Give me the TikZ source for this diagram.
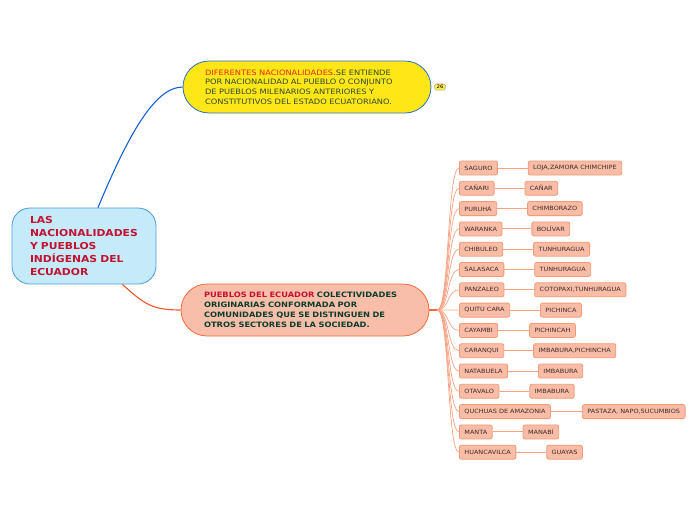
\documentclass[tikz,border=0pt]{standalone}
\usepackage{fontspec}
\setmainfont{DejaVu Sans}[FakeStretch=1.12]
\usepackage{tikz}
\usetikzlibrary{positioning}

\definecolor{rootfill}{HTML}{C5EBFB}
\definecolor{rootline}{HTML}{4A9AD8}
\definecolor{crimson}{HTML}{C3112F}
\definecolor{yelfill}{HTML}{FFE617}
\definecolor{yelline}{HTML}{2A6FC8}
\definecolor{olivetext}{HTML}{2D4A32}
\definecolor{redtext}{HTML}{E8281E}
\definecolor{orafill}{HTML}{F8BEA9}
\definecolor{oraline}{HTML}{F26A3A}
\definecolor{greentext}{HTML}{0B3D2C}
\definecolor{leaffill}{HTML}{F9BDA7}
\definecolor{leafline}{HTML}{F39A76}
\definecolor{leaftext}{HTML}{3B2A25}
\definecolor{fanline}{HTML}{F7A283}
\definecolor{blueline}{HTML}{1560D0}
\definecolor{redline}{HTML}{F0562A}

\begin{document}
\begin{tikzpicture}[x=1pt, y=-1pt,
  leaf/.style={draw=leafline, fill=leaffill, text=leaftext, rounded corners=2pt,
    line width=0.8pt, font=\fontsize{5.8}{7}\selectfont, minimum height=14pt,
    inner xsep=5pt, inner ysep=0pt},
  fan/.style={fanline, line width=0.7pt},
  twig/.style={fanline, line width=0.9pt}]
  \useasboundingbox (0,0) rectangle (696,520);

  % main topic and its two branches
  \node[draw=rootline, fill=rootfill, text=crimson, rounded corners=18pt, line width=0.8pt,
    font=\bfseries\fontsize{9.6}{13}\selectfont, align=left, text width=108pt,
    inner xsep=18pt, minimum height=76pt] (root) at (84,246)
    {LAS\\NACIONALIDADES\\Y PUEBLOS\\INDÍGENAS DEL\\ECUADOR};
  \node[draw=yelline, fill=yelfill, text=olivetext, rounded corners=26pt, line width=0.8pt,
    font=\fontsize{7.4}{9.7}\selectfont, align=left, text width=204pt,
    inner xsep=22pt, minimum height=52pt] (nacion) at (307,87)
    {\textcolor{redtext}{DIFERENTES NACIONALIDADES.}SE ENTIENDE\\POR NACIONALIDAD AL PUEBLO O CONJUNTO\\DE PUEBLOS MILENARIOS ANTERIORES Y\\CONSTITUTIVOS DEL ESTADO ECUATORIANO.};
  \node[draw=oraline, fill=orafill, text=greentext, rounded corners=26pt, line width=0.8pt,
    font=\bfseries\fontsize{7.4}{10}\selectfont, align=left, text width=202pt,
    inner xsep=23pt, minimum height=52pt] (pueblos) at (305,310)
    {\textcolor{crimson}{PUEBLOS DEL ECUADOR} COLECTIVIDADES\\ORIGINARIAS CONFORMADA POR\\COMUNIDADES QUE SE DISTINGUEN DE\\OTROS SECTORES DE LA SOCIEDAD.};
  \node[draw=black!35, fill=yelfill!80!white, rounded corners=1.5pt, line width=0.5pt,
    font=\fontsize{4.8}{5}\selectfont, inner xsep=2pt, inner ysep=1.3pt] (badge) at (440,87) {26};

  \draw[blueline, line width=1.1pt] (root.70) .. controls +(30,-72) and +(-28,0) .. (nacion.west);
  \draw[redline, line width=1.1pt] (root.-45) .. controls +(22,20) and +(-28,0) .. (pueblos.west);

  % pueblos
  \node[leaf, anchor=west] (saguro) at (459,168) {SAGURO};
  \node[leaf, anchor=west] (canari) at (459,188.3) {CAÑARI};
  \node[leaf, anchor=west] (puruha) at (459,208.6) {PURUHÁ};
  \node[leaf, anchor=west] (waranka) at (459,228.9) {WARANKA};
  \node[leaf, anchor=west] (chibuleo) at (459,249.2) {CHIBULEO};
  \node[leaf, anchor=west] (salasaca) at (459,269.5) {SALASACA};
  \node[leaf, anchor=west] (panzaleo) at (459,289.8) {PANZALEO};
  \node[leaf, anchor=west] (quitu) at (459,310.1) {QUITU CARA};
  \node[leaf, anchor=west] (cayambi) at (459,330.4) {CAYAMBI};
  \node[leaf, anchor=west] (caranqui) at (459,350.7) {CARANQUI};
  \node[leaf, anchor=west] (natabuela) at (459,371) {NATABUELA};
  \node[leaf, anchor=west] (otavalo) at (459,391.3) {OTAVALO};
  \node[leaf, anchor=west] (quchuas) at (459,411.6) {QUCHUAS DE AMAZONIA};
  \node[leaf, anchor=west] (manta) at (459,431.9) {MANTA};
  \node[leaf, anchor=west] (huanca) at (459,452.2) {HUANCAVILCA};

  % provincias
  \node[leaf, right=30pt of saguro] (p-saguro) {LOJA,ZAMORA CHIMCHIPE};
  \node[leaf, right=30pt of canari] (p-canari) {CAÑAR};
  \node[leaf, right=30pt of puruha] (p-puruha) {CHIMBORAZO};
  \node[leaf, right=29pt of waranka] (p-waranka) {BOLÍVAR};
  \node[leaf, right=30pt of chibuleo] (p-chibuleo) {TUNHURAGUA};
  \node[leaf, right=30pt of salasaca] (p-salasaca) {TUNHURAGUA};
  \node[leaf, right=30pt of panzaleo] (p-panzaleo) {COTOPAXI,TUNHURAGUA};
  \node[leaf, right=30pt of quitu] (p-quitu) {PICHINCA};
  \node[leaf, right=31pt of cayambi] (p-cayambi) {PICHINCAH};
  \node[leaf, right=29pt of caranqui] (p-caranqui) {IMBABURA,PICHINCHA};
  \node[leaf, right=30pt of natabuela] (p-natabuela) {IMBABURA};
  \node[leaf, right=30pt of otavalo] (p-otavalo) {IMBABURA};
  \node[leaf, right=31pt of quchuas] (p-quchuas) {PASTAZA, NAPO,SUCUMBIOS};
  \node[leaf, right=30pt of manta] (p-manta) {MANABÍ};
  \node[leaf, right=30pt of huanca] (p-huanca) {GUAYAS};

  % fan from pueblos
  \coordinate[right=8pt of pueblos] (hub);
  \draw[oraline, line width=1.4pt] (pueblos.east) -- (hub);
  \draw[fan] (hub) .. controls +(12,0) and +(-12,0) .. (saguro.west);
  \draw[fan] (hub) .. controls +(12,0) and +(-12,0) .. (canari.west);
  \draw[fan] (hub) .. controls +(12,0) and +(-12,0) .. (puruha.west);
  \draw[fan] (hub) .. controls +(12,0) and +(-12,0) .. (waranka.west);
  \draw[fan] (hub) .. controls +(12,0) and +(-12,0) .. (chibuleo.west);
  \draw[fan] (hub) .. controls +(12,0) and +(-12,0) .. (salasaca.west);
  \draw[fan] (hub) .. controls +(12,0) and +(-12,0) .. (panzaleo.west);
  \draw[fan] (hub) -- (quitu.west);
  \draw[fan] (hub) .. controls +(12,0) and +(-12,0) .. (cayambi.west);
  \draw[fan] (hub) .. controls +(12,0) and +(-12,0) .. (caranqui.west);
  \draw[fan] (hub) .. controls +(12,0) and +(-12,0) .. (natabuela.west);
  \draw[fan] (hub) .. controls +(12,0) and +(-12,0) .. (otavalo.west);
  \draw[fan] (hub) .. controls +(12,0) and +(-12,0) .. (quchuas.west);
  \draw[fan] (hub) .. controls +(12,0) and +(-12,0) .. (manta.west);
  \draw[fan] (hub) .. controls +(12,0) and +(-12,0) .. (huanca.west);

  % pueblo to provincia
  \draw[twig] (saguro) -- (p-saguro);
  \draw[twig] (canari) -- (p-canari);
  \draw[twig] (puruha) -- (p-puruha);
  \draw[twig] (waranka) -- (p-waranka);
  \draw[twig] (chibuleo) -- (p-chibuleo);
  \draw[twig] (salasaca) -- (p-salasaca);
  \draw[twig] (panzaleo) -- (p-panzaleo);
  \draw[twig] (quitu) -- (p-quitu);
  \draw[twig] (cayambi) -- (p-cayambi);
  \draw[twig] (caranqui) -- (p-caranqui);
  \draw[twig] (natabuela) -- (p-natabuela);
  \draw[twig] (otavalo) -- (p-otavalo);
  \draw[twig] (quchuas) -- (p-quchuas);
  \draw[twig] (manta) -- (p-manta);
  \draw[twig] (huanca) -- (p-huanca);
\end{tikzpicture}
\end{document}
